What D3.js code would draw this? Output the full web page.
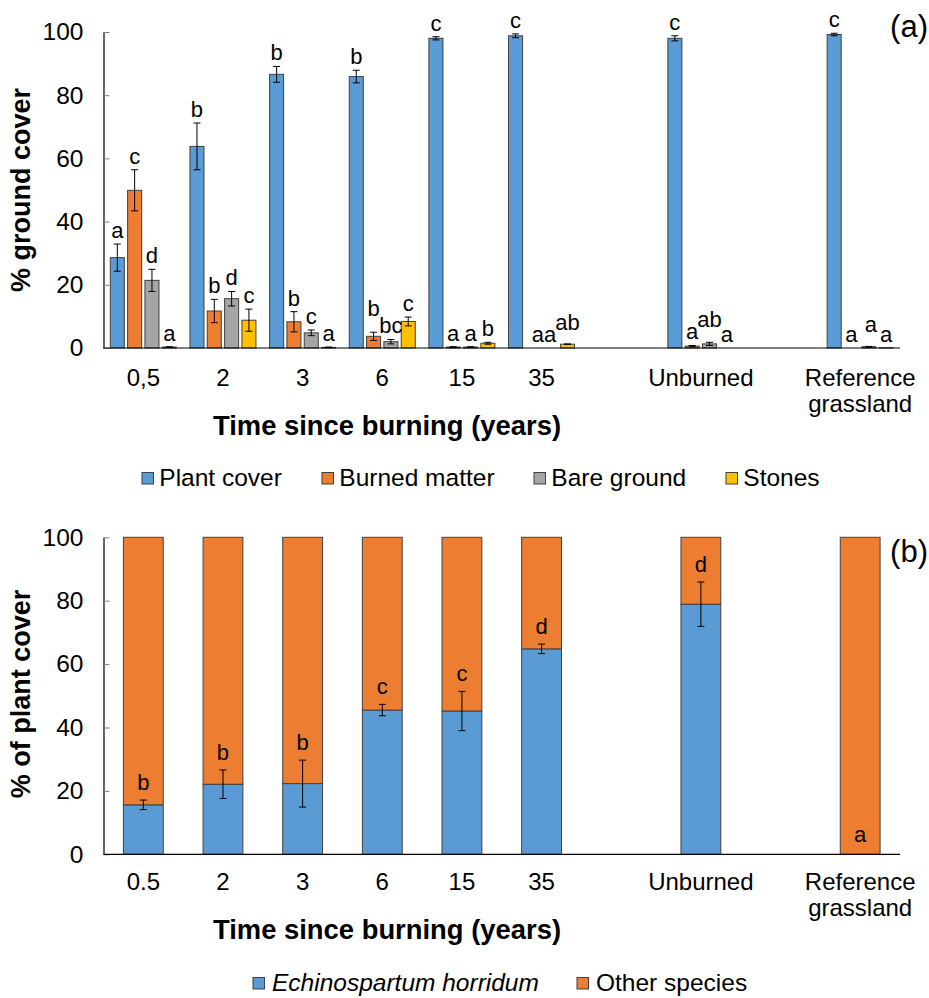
<!DOCTYPE html>
<html>
<head>
<meta charset="utf-8">
<script src="https://cdn.jsdelivr.net/npm/d3@7"></script>
<style>
  html, body { margin: 0; padding: 0; background: #fff; }
  svg { display: block; font-family: "Liberation Sans", Arial, sans-serif; }
</style>
</head>
<body>
<svg id="chart" width="929" height="998"></svg>
<script>
// ---- Panel (a): ground cover by time since burning ----
const categoriesA = ["0,5", "2", "3", "6", "15", "35", "Unburned", "Reference grassland"];
const seriesA = ["Plant cover", "Burned matter", "Bare ground", "Stones"];
const plantCover     = [28.6, 63.8, 86.6, 85.9, 98.0, 98.8, 98.0, 99.2];
const plantCoverErr  = [4.3, 7.4, 2.5, 2.0, 0.5, 0.6, 0.8, 0.4];
const plantCoverSig  = ["a", "b", "b", "b", "c", "c", "c", "c"];
const burnedMatter    = [49.9, 11.7, 8.3, 3.7, 0.3, 0.0, 0.6, 0.0];
const burnedMatterErr = [6.5, 3.7, 3.2, 1.3, 0.1, 0.0, 0.2, 0.0];
const burnedMatterSig = ["c", "b", "b", "b", "a", "a", "a", "a"];
const bareGround    = [21.4, 15.6, 4.8, 2.0, 0.3, 0.0, 1.3, 0.4];
const bareGroundErr = [3.5, 2.3, 0.9, 0.7, 0.1, 0.0, 0.5, 0.1];
const bareGroundSig = ["d", "d", "c", "bc", "a", "a", "ab", "a"];
const stones    = [0.3, 8.8, 0.2, 8.4, 1.5, 1.2, 0.0, 0.1];
const stonesErr = [0.1, 3.5, 0.1, 1.4, 0.3, 0.1, 0.0, 0.0];
const stonesSig = ["a", "c", "a", "c", "b", "ab", "a", "a"];

// ---- Panel (b): share of plant cover ----
const categoriesB = ["0.5", "2", "3", "6", "15", "35", "Unburned", "Reference grassland"];
const seriesB = ["Echinospartum horridum", "Other species"];
const echinospartum    = [15.6, 22.1, 22.3, 45.5, 45.2, 64.8, 78.9, 0.0];
const echinospartumErr = [1.5, 4.5, 7.4, 1.8, 6.2, 1.5, 7.0, 0.0];
const echinospartumSig = ["b", "b", "b", "c", "c", "d", "d", "a"];

const yTicks = [0, 20, 40, 60, 80, 100];

// ---- styling ----
const colA = ["#5B9BD5", "#ED7D31", "#A5A5A5", "#FFC000"];
const colB = ["#5B9BD5", "#ED7D31"];
const FONT = "'Liberation Sans', Arial, sans-serif";
const TICK_FS = 24.5, CAT_FS = 24, SIG_FS = 22, TITLE_FS = 27.4, LEG_FS = 24.5, PANEL_FS = 31;

const svg = d3.select("#chart");

// blank slots on the category axis sit after "35" and after "Unburned"
const gapAfter = [5, 6];
const slotKeys = [];
categoriesA.forEach((c, i) => {
  slotKeys.push("c" + i);
  if (gapAfter.includes(i)) slotKeys.push("g" + i);
});

const plotLeft = 103.5, plotRight = 900;

function styleAxis(ax) {
  ax.select(".domain").attr("stroke", "#000").attr("stroke-width", 1.2);
  ax.selectAll(".tick line").attr("stroke", "#7f7f7f");
  ax.selectAll(".tick text").attr("font-family", FONT).attr("font-size", TICK_FS).attr("fill", "#000");
}

function categoryLabels(g, x, cats, baseline) {
  cats.forEach((c, i) => {
    const cx = x("c" + i) + x.step() / 2;
    const words = c === "Reference grassland" ? ["Reference", "grassland"] : [c];
    const t = g.append("text").attr("text-anchor", "middle")
      .attr("font-family", FONT).attr("font-size", CAT_FS);
    words.forEach((w, k) => {
      t.append("tspan").attr("x", cx).attr("y", baseline + k * 26).text(w);
    });
  });
}

function errorBar(g, cx, yLo, yHi) {
  g.append("line").attr("x1", cx).attr("x2", cx).attr("y1", yLo).attr("y2", yHi);
  g.append("line").attr("x1", cx - 3.5).attr("x2", cx + 3.5).attr("y1", yLo).attr("y2", yLo);
  g.append("line").attr("x1", cx - 3.5).attr("x2", cx + 3.5).attr("y1", yHi).attr("y2", yHi);
}

// ================= Panel (a) =================
const gA = svg.append("g");
const xA = d3.scaleBand().domain(slotKeys).range([plotLeft, plotRight]).padding(0);
const xSubA = d3.scaleBand().domain(seriesA).range([6.8, 6.8 + 66]).paddingInner(0.19);
const yA = d3.scaleLinear().domain([0, 100]).range([348, 32]);

const valsA = [plantCover, burnedMatter, bareGround, stones];
const errsA = [plantCoverErr, burnedMatterErr, bareGroundErr, stonesErr];
const sigsA = [plantCoverSig, burnedMatterSig, bareGroundSig, stonesSig];

const rowsA = [];
categoriesA.forEach((c, i) => {
  seriesA.forEach((s, j) => {
    rowsA.push({ cat: i, ser: j, name: s, v: valsA[j][i], e: errsA[j][i], sig: sigsA[j][i] });
  });
});

// letter nudges [dx, lift] where neighbouring letters would collide
const nudgeA = { "3|1": [0, 10], "5|1": [5, 0], "5|3": [0, 8], "6|2": [0, 9], "7|2": [2, 8] };

const axA = gA.append("g")
  .attr("transform", `translate(${plotLeft},0)`)
  .call(d3.axisLeft(yA).tickValues(yTicks).tickSizeInner(-6).tickSizeOuter(0).tickPadding(20));
styleAxis(axA);

gA.append("g").selectAll("rect").data(rowsA).join("rect")
  .attr("x", d => xA("c" + d.cat) + xSubA(d.name))
  .attr("width", xSubA.bandwidth())
  .attr("y", d => yA(d.v))
  .attr("height", d => yA(0) - yA(d.v))
  .attr("fill", d => colA[d.ser])
  .attr("stroke", "#404040")
  .attr("stroke-width", 1);

const ebA = gA.append("g").attr("stroke", "#000").attr("stroke-width", 1);
rowsA.filter(d => d.e > 0).forEach(d => {
  const cx = xA("c" + d.cat) + xSubA(d.name) + xSubA.bandwidth() / 2;
  errorBar(ebA, cx, yA(d.v - d.e), yA(d.v + d.e));
});

gA.append("g").selectAll("text").data(rowsA).join("text")
  .attr("x", d => xA("c" + d.cat) + xSubA(d.name) + xSubA.bandwidth() / 2 + (nudgeA[d.cat + "|" + d.ser] || [0, 0])[0])
  .attr("y", d => yA(d.v + d.e) - 6 - (nudgeA[d.cat + "|" + d.ser] || [0, 0])[1])
  .attr("text-anchor", "middle")
  .attr("font-family", FONT).attr("font-size", SIG_FS)
  .text(d => d.sig);

gA.append("line").attr("x1", plotLeft).attr("x2", plotRight)
  .attr("y1", yA(0)).attr("y2", yA(0)).attr("stroke", "#000").attr("stroke-width", 1.2);

categoryLabels(gA, xA, categoriesA, 386);

gA.append("text").attr("x", 387).attr("y", 435).attr("text-anchor", "middle")
  .attr("font-family", FONT).attr("font-size", TITLE_FS).attr("font-weight", "bold")
  .text("Time since burning (years)");
gA.append("text").attr("transform", "translate(30,190) rotate(-90)").attr("text-anchor", "middle")
  .attr("font-family", FONT).attr("font-size", 27).attr("font-weight", "bold")
  .text("% ground cover");
gA.append("text").attr("x", 928).attr("y", 37).attr("text-anchor", "end")
  .attr("font-family", FONT).attr("font-size", PANEL_FS).text("(a)");

const legAx = [142, 322, 534, 726];
seriesA.forEach((s, j) => {
  gA.append("rect").attr("x", legAx[j]).attr("y", 472.5).attr("width", 11.5).attr("height", 11.5)
    .attr("fill", colA[j]).attr("stroke", "#404040").attr("stroke-width", 1);
  gA.append("text").attr("x", legAx[j] + 17.3).attr("y", 485.5)
    .attr("font-family", FONT).attr("font-size", LEG_FS).text(s);
});

// ================= Panel (b) =================
const gB = svg.append("g");
const xB = d3.scaleBand().domain(slotKeys).range([plotLeft, plotRight]).paddingInner(0.5).paddingOuter(0.25);
const yB = d3.scaleLinear().domain([0, 100]).range([854.3, 537.3]);

const rowsB = categoriesB.map((c, i) => ({
  cat: i, e1: echinospartum[i], e2: 100 - echinospartum[i], err: echinospartumErr[i], sig: echinospartumSig[i]
}));
const stackB = d3.stack().keys(["e1", "e2"])(rowsB);

const axB = gB.append("g")
  .attr("transform", `translate(${plotLeft},0)`)
  .call(d3.axisLeft(yB).tickValues(yTicks).tickSizeInner(-6).tickSizeOuter(0).tickPadding(20));
styleAxis(axB);

gB.append("g").selectAll("g").data(stackB).join("g")
  .attr("fill", (d, i) => colB[i])
  .selectAll("rect").data(d => d).join("rect")
  .attr("x", d => xB("c" + d.data.cat))
  .attr("width", xB.bandwidth())
  .attr("y", d => yB(d[1]))
  .attr("height", d => yB(d[0]) - yB(d[1]))
  .attr("stroke", "#404040")
  .attr("stroke-width", 1);

const ebB = gB.append("g").attr("stroke", "#000").attr("stroke-width", 1);
rowsB.filter(d => d.err > 0).forEach(d => {
  const cx = xB("c" + d.cat) + xB.bandwidth() / 2;
  errorBar(ebB, cx, yB(d.e1 - d.err), yB(d.e1 + d.err));
});

gB.append("g").selectAll("text").data(rowsB).join("text")
  .attr("x", d => xB("c" + d.cat) + xB.bandwidth() / 2)
  .attr("y", d => yB(d.e1 + d.err) - (d.e1 > 0 ? 10 : 12))
  .attr("text-anchor", "middle")
  .attr("font-family", FONT).attr("font-size", SIG_FS)
  .text(d => d.sig);

gB.append("line").attr("x1", plotLeft).attr("x2", plotRight)
  .attr("y1", yB(0)).attr("y2", yB(0)).attr("stroke", "#000").attr("stroke-width", 1.2);

categoryLabels(gB, xA, categoriesB, 890);

gB.append("text").attr("x", 387).attr("y", 939).attr("text-anchor", "middle")
  .attr("font-family", FONT).attr("font-size", TITLE_FS).attr("font-weight", "bold")
  .text("Time since burning (years)");
gB.append("text").attr("transform", "translate(30,694) rotate(-90)").attr("text-anchor", "middle")
  .attr("font-family", FONT).attr("font-size", 27).attr("font-weight", "bold")
  .text("% of plant cover");
gB.append("text").attr("x", 928).attr("y", 561.5).attr("text-anchor", "end")
  .attr("font-family", FONT).attr("font-size", PANEL_FS).text("(b)");

const legBx = [253, 577];
seriesB.forEach((s, j) => {
  gB.append("rect").attr("x", legBx[j]).attr("y", 977.5).attr("width", 11.5).attr("height", 11.5)
    .attr("fill", colB[j]).attr("stroke", "#404040").attr("stroke-width", 1);
  gB.append("text").attr("x", legBx[j] + 19).attr("y", 990.5)
    .attr("font-family", FONT).attr("font-size", LEG_FS)
    .attr("font-style", j === 0 ? "italic" : "normal").text(s);
});
</script>
</body>
</html>
